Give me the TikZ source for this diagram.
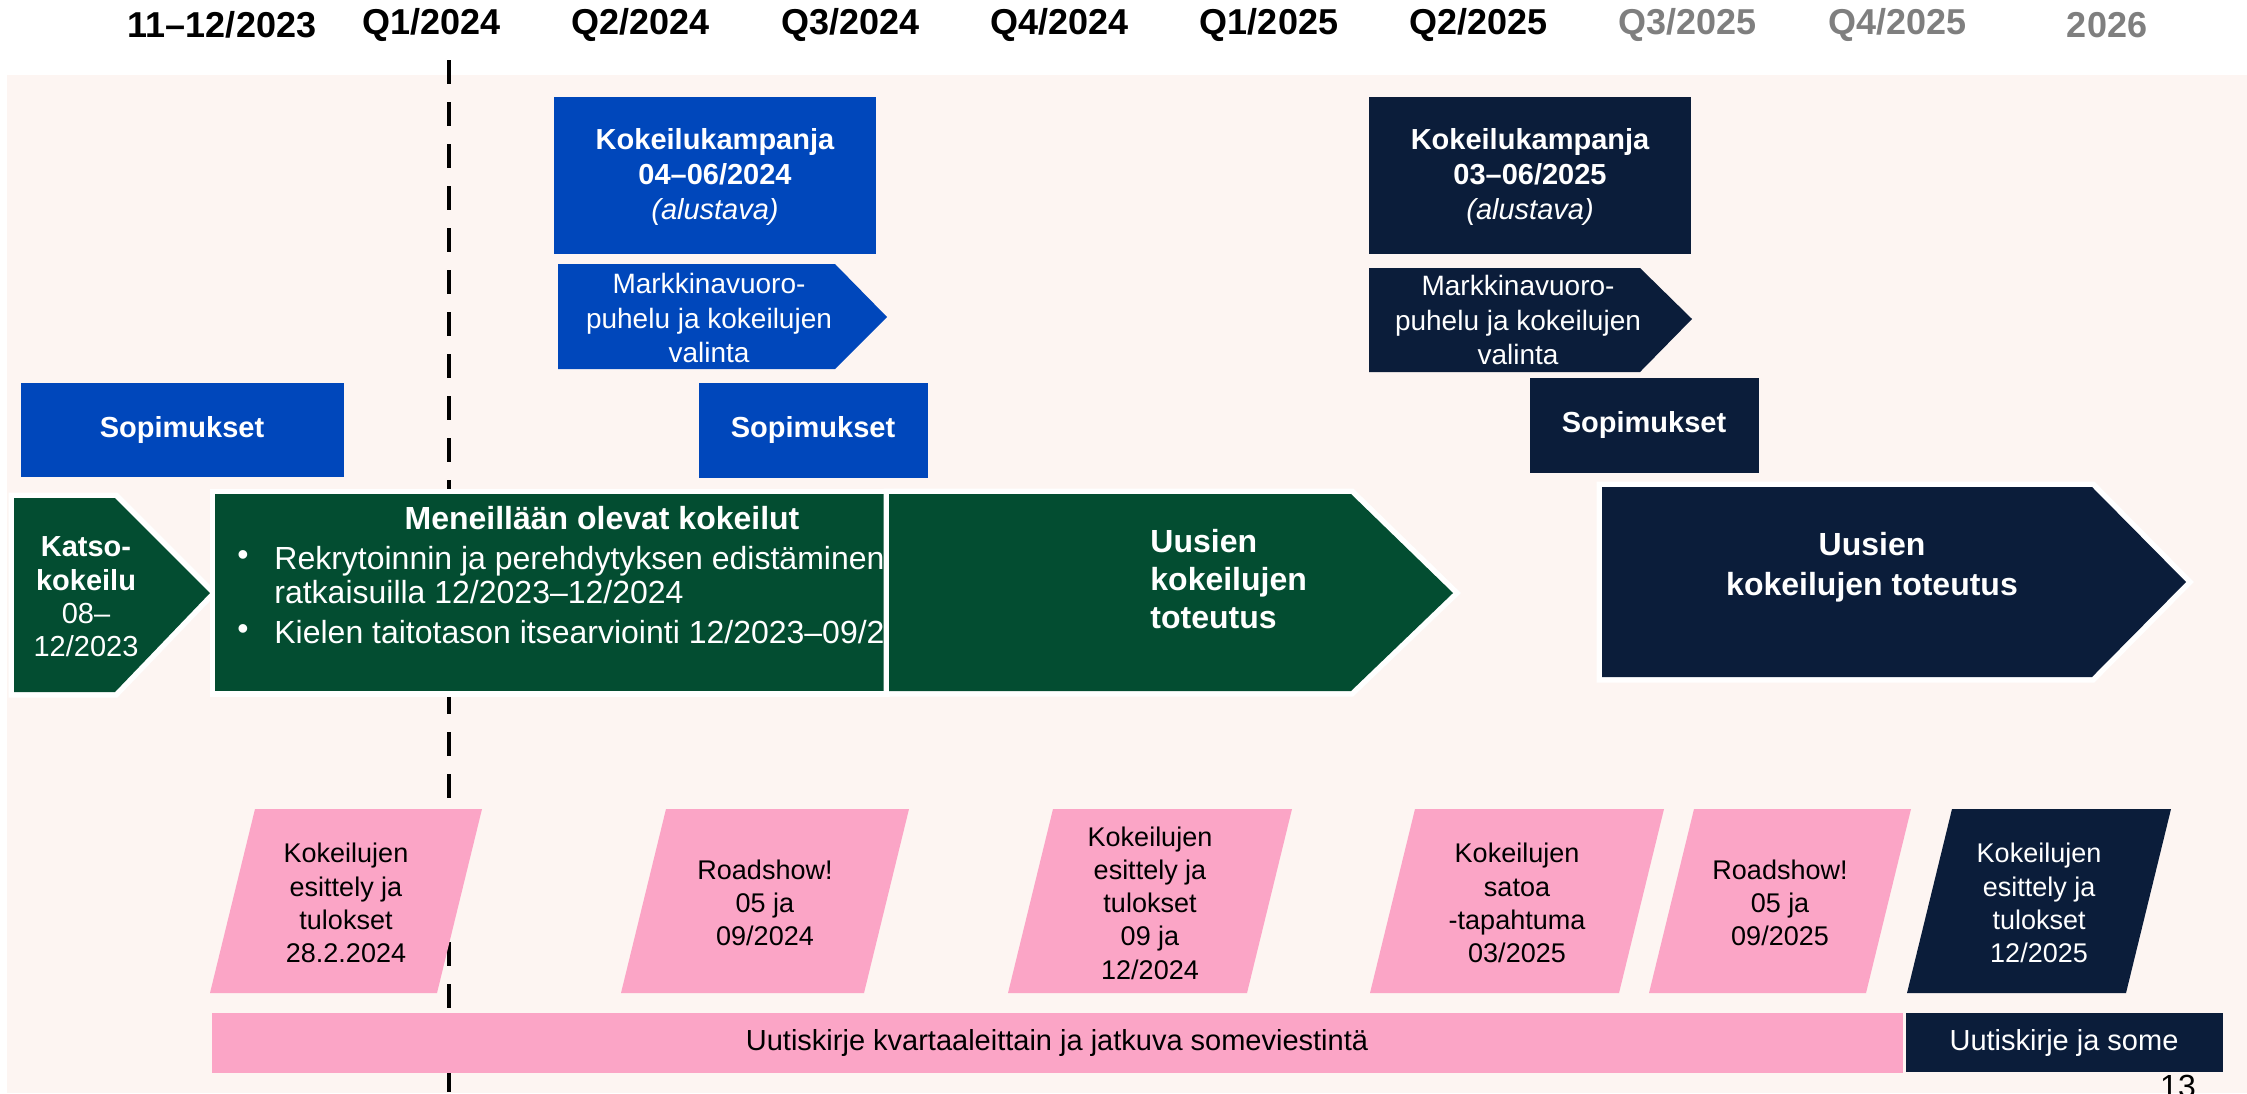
\documentclass[tikz,border=0pt]{standalone}
\usepackage{fontspec}
\setmainfont{Liberation Sans}
\usepackage{tikz}
\usetikzlibrary{positioning}
\definecolor{bgc}{HTML}{FDF5F2}
\definecolor{bluec}{HTML}{0047BB}
\definecolor{navyc}{HTML}{0B1D3A}
\definecolor{greenc}{HTML}{034D31}
\definecolor{pinkc}{HTML}{FBA5C6}
\definecolor{grayc}{HTML}{7F7F7F}
\tikzset{
  hd/.style={font=\fontsize{18}{21}\selectfont\bfseries,inner sep=0pt},
  wt/.style={text=white,align=center,inner sep=0pt,font=\fontsize{14}{17.3}\selectfont},
  wtb/.style={wt,font=\fontsize{14.5}{17.5}\selectfont\bfseries},
  big/.style={wt,font=\fontsize{16}{17}\selectfont},
  bigb/.style={wt,font=\fontsize{16}{19}\selectfont\bfseries},
  bk/.style={text=black,align=center,inner sep=0pt,font=\fontsize{13.5}{16.6}\selectfont},
  rim/.style={preaction={draw=white,line width=5.5pt}}
}
\begin{document}
\begin{tikzpicture}[x=0.5pt,y=-0.5pt]
\useasboundingbox (0,0) rectangle (2247,1093);
\fill[bgc] (7,75) rectangle (2247,1093);
\draw[line width=2.2pt,dash pattern=on 12pt off 9pt] (449,60) -- (449,1093);
% quarters
\node[hd] (h0) at (222,25) {11–12/2023};
\foreach \i/\q/\yr in {1/1/2024,2/2/2024,3/3/2024,4/4/2024,5/1/2025,6/2/2025}
  \node[hd] (h\i) at ({222+\i*209.4},25) {Q\q/\yr};
\foreach \i/\q in {7/3,8/4}
  \node[hd,grayc] (h\i) at ({222+\i*209.4},25) {Q\q/2025};
\node[hd,grayc] (h9) at (2107,25) {2026};
% campaign 2024
\fill[bluec] (21,383) rectangle (344,477);
\node[wtb] (sop0) at (182,430) {Sopimukset};
\fill[bluec] (554,97) rectangle (876,254);
\node[wtb] (kamp1) at (715,177) {Kokeilukampanja\\04–06/2024\\{\mdseries\itshape (alustava)}};
\fill[bluec] (558,264) -- (835,264) -- (887,317) -- (835,369) -- (558,369) -- cycle;
\node[wt] (mkv1) at (709,318) {Markkinavuoro-\\puhelu ja kokeilujen\\valinta};
\fill[bluec] (699,383) rectangle (928,478);
\node[wtb] (sop1) at (813,430) {Sopimukset};
% campaign 2025
\fill[navyc] (1369,97) rectangle (1691,254);
\node[wtb] (kamp2) at (1530,177) {Kokeilukampanja\\03–06/2025\\{\mdseries\itshape (alustava)}};
\fill[navyc] (1369,268) -- (1640,268) -- (1692,319) -- (1640,372) -- (1369,372) -- cycle;
\node[wt] (mkv2) at (1518,320) {Markkinavuoro-\\puhelu ja kokeilujen\\valinta};
\fill[navyc] (1530,378) rectangle (1759,473);
\node[wtb] (sop2) at (1644,425) {Sopimukset};
% trials
\fill[greenc,rim] (14,498) -- (115,498) -- (210,593) -- (115,692) -- (14,692) -- cycle;
\node[wt,font=\fontsize{14.5}{16.7}\selectfont] (katso) at (86,597) {\textbf{Katso-}\\\textbf{kokeilu}\\08–\\12/2023};
\fill[greenc,rim] (215,494) rectangle (884,691);
\begin{scope}
\clip (215,494) rectangle (884,691);
\node[bigb] (men) at (602,518) {Meneillään olevat kokeilut};
\node[big] (bul1) at (243,558) {•};
\node[big,align=left,anchor=west] (txt1) at (274,575) {Rekrytoinnin ja perehdytyksen edistäminen\\ratkaisuilla 12/2023–12/2024};
\node[big] (bul2) at (243,632) {•};
\node[big,anchor=west] (txt2) at (274,632) {Kielen taitotason itsearviointi 12/2023–09/2024};
\end{scope}
\fill[greenc,rim] (889,494) -- (1351,494) -- (1453,593) -- (1351,691) -- (889,691) -- cycle;
\node[bigb,font=\fontsize{16}{19}\selectfont\bfseries,align=left,anchor=west] (uus1) at (1150,579) {Uusien\\kokeilujen\\toteutus};
\fill[navyc,rim] (1602,487) -- (2092,487) -- (2186,582) -- (2092,677) -- (1602,677) -- cycle;
\node[bigb,font=\fontsize{16}{20}\selectfont\bfseries] (uus2) at (1872,567) {Uusien\\kokeilujen toteutus};
% events
\foreach \tx/\w in {255/227,666/243,1053/239,1415/249,1694/217}
  \fill[pinkc] (\tx,809) -- ++(\w,0) -- ++(-45,184) -- ++(-\w,0) -- cycle;
\fill[navyc] (1952,809) -- ++(219,0) -- ++(-45,184) -- ++(-219,0) -- cycle;
\node[bk] (ev1) at (346,903) {Kokeilujen\\esittely ja\\tulokset\\28.2.2024};
\node[bk] (ev2) at (765,903) {Roadshow!\\05 ja\\09/2024};
\node[bk] (ev3) at (1150,903) {Kokeilujen\\esittely ja\\tulokset\\09 ja\\12/2024};
\node[bk] (ev4) at (1517,903) {Kokeilujen\\satoa\\-tapahtuma\\03/2025};
\node[bk] (ev5) at (1780,903) {Roadshow!\\05 ja\\09/2025};
\node[bk,text=white] (ev6) at (2039,903) {Kokeilujen\\esittely ja\\tulokset\\12/2025};
% newsletter
\fill[pinkc] (212,1013) rectangle (1903,1073);
\node[bk,font=\fontsize{14.5}{17}\selectfont] (news1) at (1057,1043) {Uutiskirje kvartaaleittain ja jatkuva someviestintä};
\fill[navyc] (1906,1013) rectangle (2223,1072);
\node[wt,font=\fontsize{14.5}{17}\selectfont] (news2) at (2064,1043) {Uutiskirje ja some};
\node[anchor=north,inner sep=0pt,font=\fontsize{16}{19}\selectfont] (pg) at (2178,1075) {13};
\end{tikzpicture}
\end{document}
